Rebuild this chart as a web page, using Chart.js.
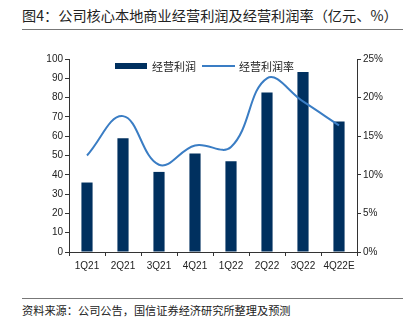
<!DOCTYPE html>
<html><head><meta charset="utf-8">
<script src="https://cdn.jsdelivr.net/npm/chart.js@4.4.0/dist/chart.umd.min.js"></script>
<style>
html,body{margin:0;padding:0;background:#fff;width:403px;height:327px;overflow:hidden;position:relative;font-family:"Liberation Sans","Noto Sans CJK SC",sans-serif;}
#title{position:absolute;left:22px;top:5px;font-size:14.2px;color:#222;font-family:"Noto Sans CJK SC",sans-serif;white-space:nowrap;}
#tline{position:absolute;left:22px;top:29px;width:381px;height:1px;background:#777;}
#bline{position:absolute;left:22px;top:298px;width:381px;height:1px;background:#777;}
#src{position:absolute;left:22px;top:302px;font-size:11.2px;color:#222;font-family:"Noto Sans CJK SC",sans-serif;white-space:nowrap;}
#wrap{position:absolute;left:0;top:0;width:403px;height:290px;}
#legend{position:absolute;top:58px;left:115px;font-size:11px;color:#222;font-family:"Noto Sans CJK SC",sans-serif;white-space:nowrap;display:flex;align-items:center;}
.bar{display:inline-block;width:32px;height:6px;background:#00305F;margin-right:5px;}
.ln{display:inline-block;width:33px;height:2px;background:#3A7DC4;margin:0 4px 0 6px;}
</style></head><body>
<div id="title">图4：公司核心本地商业经营利润及经营利润率（亿元、%）</div>
<div id="tline"></div>
<div id="wrap"><canvas id="c"></canvas></div>
<div id="legend"><span class="bar"></span>经营利润<span class="ln"></span>经营利润率</div>
<div id="bline"></div>
<div id="src">资料来源：公司公告，国信证券经济研究所整理及预测</div>
<script>
const categories = ["1Q21","2Q21","3Q21","4Q21","1Q22","2Q22","3Q22","4Q22E"];
const profit = [36, 59, 41.5, 51, 47, 82.7, 93.3, 67.6];
const margin = [12.5, 17.6, 11.3, 13.8, 13.6, 22.5, 19.5, 16.4];
const leftTicks = [0,10,20,30,40,50,60,70,80,90,100];
const rightTicks = [0,5,10,15,20,25];

const tickFont = {family:"Liberation Sans", size:10};
new Chart(document.getElementById('c'), {
  data: {
    labels: categories,
    datasets: [
      {type:'line', label:'经营利润率', data: margin, yAxisID:'y1', borderColor:'#3A7DC4', borderWidth:2, pointRadius:0, tension:0.4, fill:false, order:0},
      {type:'bar', label:'经营利润', data: profit, yAxisID:'y', backgroundColor:'#00305F', barPercentage:0.62, categoryPercentage:0.5, order:1}
    ]
  },
  options: {
    responsive:true, maintainAspectRatio:false, animation:false,
    layout:{padding:{top:59, bottom:0, left:0, right:0}},
    plugins:{legend:{display:false}, tooltip:{enabled:false}},
    scales:{
      x:{
        offset:true,
        grid:{display:true, drawOnChartArea:false, drawTicks:true, tickLength:4, color:'#333', offset:true},
        border:{display:true, color:'#333'},
        ticks:{color:'#222', font:tickFont, padding:4, maxRotation:0},
        afterFit(s){ s.height = 38; }
      },
      y:{
        position:'left', min:0, max:100,
        afterBuildTicks(s){ s.ticks = leftTicks.map(v=>({value:v})); },
        grid:{display:true, drawOnChartArea:false, drawTicks:true, tickLength:4, color:'#333'},
        border:{display:true, color:'#333'},
        ticks:{color:'#222', font:tickFont, padding:2},
        afterFit(s){ s.width = 69; }
      },
      y1:{
        position:'right', min:0, max:25,
        afterBuildTicks(s){ s.ticks = rightTicks.map(v=>({value:v})); },
        grid:{display:true, drawOnChartArea:false, drawTicks:true, tickLength:4, color:'#333'},
        border:{display:true, color:'#333'},
        ticks:{color:'#222', font:tickFont, padding:2, callback:v=>v+'%'},
        afterFit(s){ s.width = 46; }
      }
    }
  }
});
</script>
</body></html>
